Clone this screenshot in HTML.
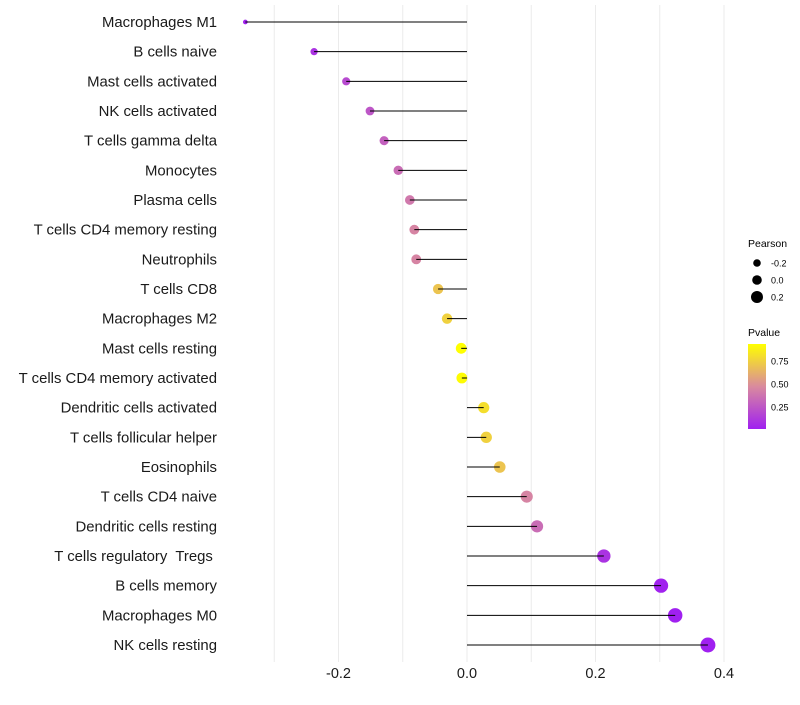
<!DOCTYPE html>
<html><head><meta charset="utf-8"><style>
body{margin:0;background:#fff;font-family:"Liberation Sans",sans-serif}
text{white-space:pre}
</style></head><body>
<svg id="chart" width="800" height="700" xmlns="http://www.w3.org/2000/svg">
<defs><linearGradient id="pg" x1="0" y1="1" x2="0" y2="0">
<stop offset="0" stop-color="#A020F0"/><stop offset="0.5" stop-color="#D98A9E"/><stop offset="1" stop-color="#FFFF00"/>
</linearGradient></defs>
<g id="grid"></g><g id="dots"></g><g id="stems"></g><g id="ylab"></g><g id="xlab"></g>
<g font-size="10">
<text x="748" y="247" font-size="10.5">Pearson</text>
<circle cx="757" cy="263" r="3.8"/><text x="771" y="266.5" font-size="9">-0.2</text>
<circle cx="757" cy="280" r="4.8"/><text x="771" y="283.5" font-size="9">0.0</text>
<circle cx="757" cy="297" r="6"/><text x="771" y="300.5" font-size="9">0.2</text>
</g>
<g>
<text x="748" y="336" font-size="10.5">Pvalue</text>
<rect x="748" y="344" width="18" height="85" fill="url(#pg)"/>
<text x="771" y="364.5" font-size="9">0.75</text>
<text x="771" y="387.5" font-size="9">0.50</text>
<text x="771" y="410.5" font-size="9">0.25</text>
</g>
</svg>
<script>
const categories=["Macrophages M1","B cells naive","Mast cells activated","NK cells activated","T cells gamma delta","Monocytes","Plasma cells","T cells CD4 memory resting","Neutrophils","T cells CD8","Macrophages M2","Mast cells resting","T cells CD4 memory activated","Dendritic cells activated","T cells follicular helper","Eosinophils","T cells CD4 naive","Dendritic cells resting","T cells regulatory  Tregs ","B cells memory","Macrophages M0","NK cells resting"];
const pearson=[-0.345,-0.238,-0.188,-0.151,-0.129,-0.107,-0.089,-0.082,-0.079,-0.045,-0.031,-0.009,-0.008,0.026,0.030,0.051,0.093,0.109,0.213,0.302,0.324,0.375];
const pvalue=[0.03,0.1,0.2,0.25,0.3,0.35,0.4,0.45,0.45,0.7,0.75,0.93,0.92,0.8,0.75,0.7,0.45,0.35,0.1,0.03,0.02,0.02];
const xTicks=[-0.2,0.0,0.2,0.4];
const xTickLabels=["-0.2","0.0","0.2","0.4"];
const gridVals=[-0.3,-0.2,-0.1,0,0.1,0.2,0.3,0.4];
const NS="http://www.w3.org/2000/svg";
const x=v=>467+v*642.5;
const y=i=>22+i*(623/21);
const pMin=0.02,pMax=0.93;
function lerp(a,b,t){return a.map((c,k)=>Math.round(c+(b[k]-c)*t));}
function color(p){let t=Math.max(0,Math.min(1,(p-pMin)/(pMax-pMin)));
 const c0=[160,32,240],c1=[217,138,158],c2=[255,255,0];
 const c=t<0.5?lerp(c0,c1,t/0.5):lerp(c1,c2,(t-0.5)/0.5);return `rgb(${c})`;}
const rad=v=>Math.sqrt(Math.max(2,29.8+v*70));
function mk(tag,attrs,parent){const e=document.createElementNS(NS,tag);for(const k in attrs)e.setAttribute(k,attrs[k]);parent.appendChild(e);return e;}
const grid=document.getElementById('grid'),dots=document.getElementById('dots'),stems=document.getElementById('stems'),yl=document.getElementById('ylab'),xl=document.getElementById('xlab');
gridVals.forEach(v=>{const l=mk('line',{x1:x(v),x2:x(v),y1:5,y2:662,stroke:'#ebebeb','stroke-width':1},grid);

});
xTicks.forEach((v,i)=>{const t=mk('text',{x:x(v),y:678,'text-anchor':'middle','font-size':14.5,fill:'#1a1a1a'},xl);t.textContent=xTickLabels[i];

});
categories.forEach((c,i)=>{
 const t=mk('text',{x:217,y:y(i)+5,'text-anchor':'end','font-size':14.9,fill:'#1a1a1a'},yl);t.textContent=c;
 
 
 const d=mk('circle',{cx:x(pearson[i]),cy:y(i),r:rad(pearson[i]),fill:color(pvalue[i])},dots);
 
 
 const l=mk('line',{x1:x(0),x2:x(pearson[i]),y1:y(i),y2:y(i),stroke:'#000','stroke-width':1},stems);
 
 
});
</script>
</body></html>
